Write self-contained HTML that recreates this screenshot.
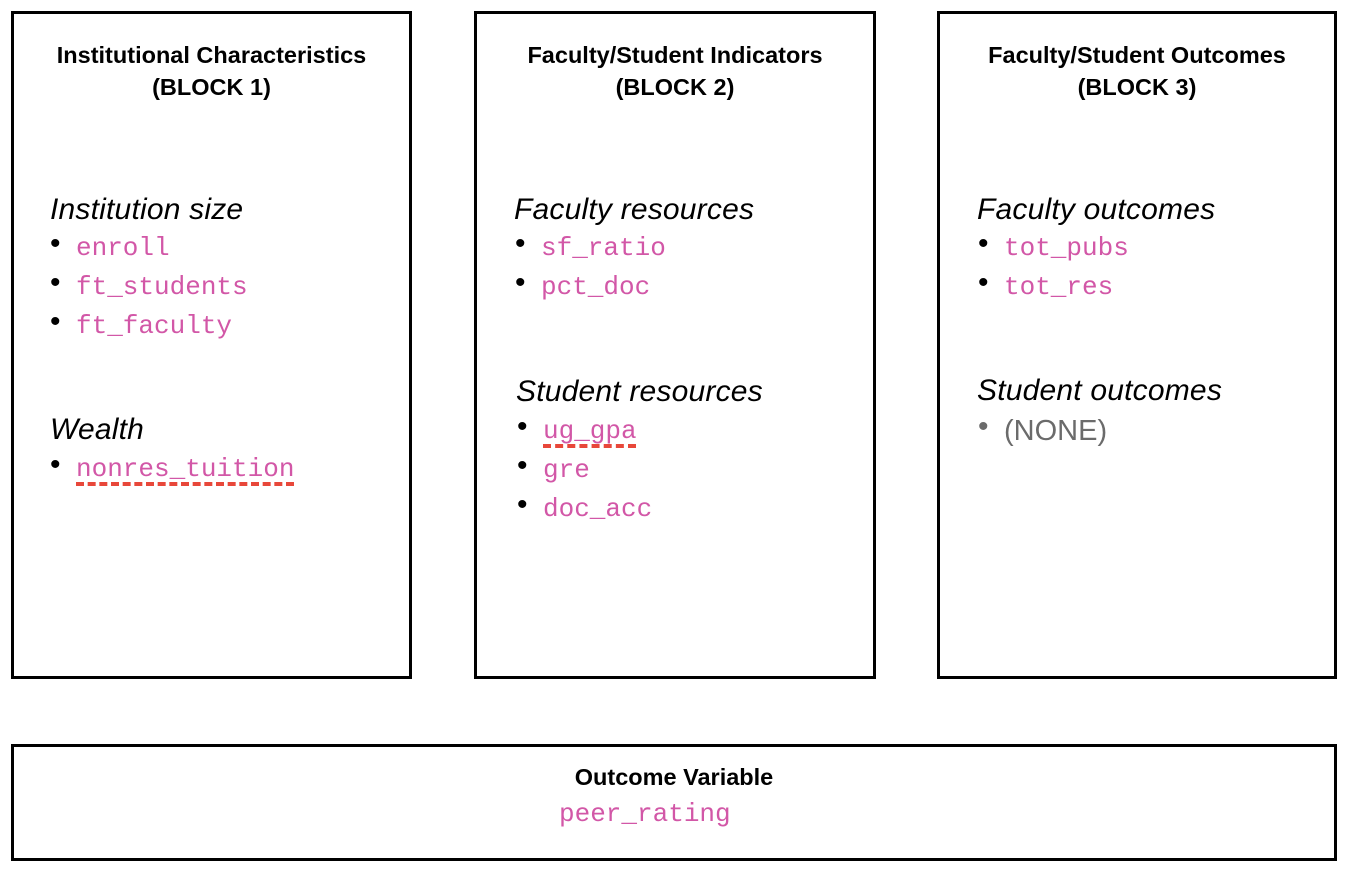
<!DOCTYPE html>
<html><head><meta charset="utf-8"><style>
body{margin:0;width:1352px;height:880px;background:#fff;position:relative;overflow:hidden;font-family:"Liberation Sans",Arial,sans-serif}
.box{position:absolute;border:3px solid #000;box-sizing:border-box;background:#fff}
.t{position:absolute;white-space:nowrap;line-height:32px}
.title{font-weight:bold;font-size:23.5px;text-align:center;line-height:32px}
.h{font-style:italic;font-size:30px;color:#000;letter-spacing:0.2px}
.m{font-family:"Liberation Mono","DejaVu Sans Mono",monospace;font-size:26px;color:#d257a7}
.b{font-size:30px;color:#000}
.u{text-decoration:underline dashed #e8473a 4px;text-underline-offset:6px}
</style></head><body>
<div class="box" style="left:11px;top:11px;width:401px;height:668px"></div>
<div class="box" style="left:474px;top:11px;width:402px;height:668px"></div>
<div class="box" style="left:937px;top:11px;width:400px;height:668px"></div>
<div class="box" style="left:11px;top:744px;width:1326px;height:117px"></div>

<div class="t title" style="left:11px;width:401px;top:39px">Institutional Characteristics<br>(BLOCK 1)</div>
<div class="t title" style="left:474px;width:402px;top:39px">Faculty/Student Indicators<br>(BLOCK 2)</div>
<div class="t title" style="left:937px;width:400px;top:39px">Faculty/Student Outcomes<br>(BLOCK 3)</div>

<div class="t h" style="left:50px;top:194px">Institution size</div>
<div class="t b" style="left:50px;top:228px">•</div><div class="t m" style="left:76px;top:232px">enroll</div>
<div class="t b" style="left:50px;top:267px">•</div><div class="t m" style="left:76px;top:271px">ft_students</div>
<div class="t b" style="left:50px;top:306px">•</div><div class="t m" style="left:76px;top:310px">ft_faculty</div>
<div class="t h" style="left:50px;top:414px">Wealth</div>
<div class="t b" style="left:50px;top:449px">•</div><div class="t m" style="left:76px;top:453px"><span class="u">nonres_tuition</span></div>

<div class="t h" style="left:514px;top:194px">Faculty resources</div>
<div class="t b" style="left:515px;top:228px">•</div><div class="t m" style="left:541px;top:232px">sf_ratio</div>
<div class="t b" style="left:515px;top:267px">•</div><div class="t m" style="left:541px;top:271px">pct_doc</div>
<div class="t h" style="left:516px;top:376px">Student resources</div>
<div class="t b" style="left:517px;top:411px">•</div><div class="t m" style="left:543px;top:415px"><span class="u">ug_gpa</span></div>
<div class="t b" style="left:517px;top:450px">•</div><div class="t m" style="left:543px;top:454px">gre</div>
<div class="t b" style="left:517px;top:489px">•</div><div class="t m" style="left:543px;top:493px">doc_acc</div>

<div class="t h" style="left:977px;top:194px">Faculty outcomes</div>
<div class="t b" style="left:978px;top:228px">•</div><div class="t m" style="left:1004px;top:232px">tot_pubs</div>
<div class="t b" style="left:978px;top:267px">•</div><div class="t m" style="left:1004px;top:271px">tot_res</div>
<div class="t h" style="left:977px;top:375px">Student outcomes</div>
<div class="t b" style="left:978px;top:411px;color:#6b6b6b">•</div><div class="t" style="left:1004px;top:415px;font-size:29px;color:#6b6b6b">(NONE)</div>

<div class="t title" style="left:11px;width:1326px;top:761px">Outcome Variable</div>
<div class="t m" style="left:559px;top:798px">peer_rating</div>
</body></html>
